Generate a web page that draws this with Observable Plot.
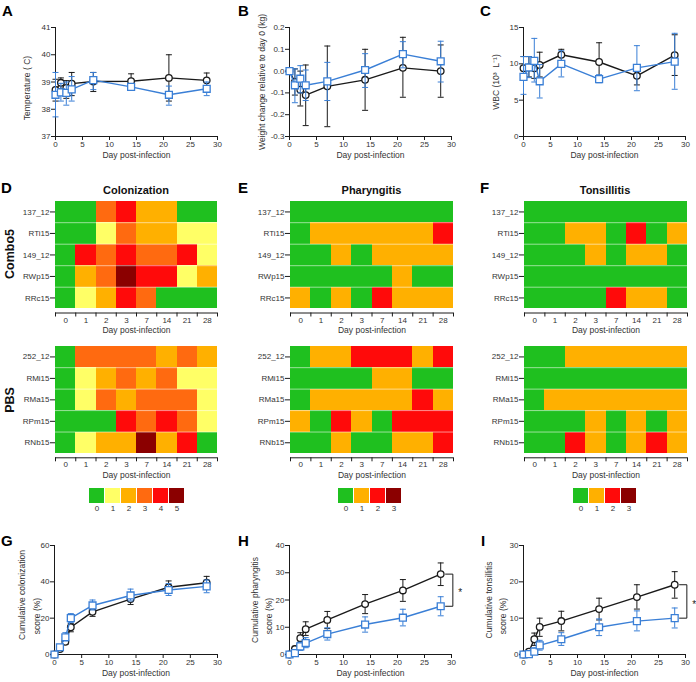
<!DOCTYPE html>
<html><head><meta charset="utf-8">
<script src="https://cdn.jsdelivr.net/npm/d3@7"></script>
<script src="https://cdn.jsdelivr.net/npm/@observablehq/plot@0.6"></script>
<style>
body{margin:0;background:#fff;}
#fig{position:relative;width:696px;height:682px;overflow:hidden;background:#fff;font-family:Arial,"Liberation Sans",Helvetica,sans-serif;}
.pan{position:absolute;}
.pan svg{overflow:visible;display:block;}
</style></head><body><div id="fig"></div>
<script>
// ---------- data ----------
const DAYS = [0,1,2,3,7,14,21,28];
const DAY_LABELS = ["0","1","2","3","7","14","21","28"];
const X_TICKS = [0,5,10,15,20,25,30];

// Temperature (black = PBS, blue = Combo5)
const tempPbs   = [38.71,38.97,38.78,38.94,39.02,39.03,39.15,39.06];
const tempPbsLo = [38.30,38.75,38.40,38.50,38.65,38.75,38.30,38.80];
const tempPbsHi = [39.10,39.15,39.05,39.35,39.35,39.30,40.00,39.33];
const tempCom   = [38.53,38.62,38.60,38.73,39.07,38.82,38.53,38.75];
const tempComLo = [37.72,38.30,38.15,38.30,38.72,38.75,38.15,38.50];
const tempComHi = [39.35,38.95,39.00,39.20,39.35,38.90,38.85,39.00];

// Weight change
const wPbs   = [0,-0.050,-0.085,-0.110,-0.070,-0.040,0.015,0.000];
const wPbsLo = [0,-0.110,-0.160,-0.250,-0.255,-0.180,-0.120,-0.120];
const wPbsHi = [0, 0.010, 0.000, 0.028, 0.115, 0.100, 0.155, 0.120];
const wCom   = [0,-0.065,-0.035,-0.065,-0.047,0.005,0.078,0.045];
const wComLo = [0,-0.145,-0.100,-0.135,-0.135,-0.075,0.015,-0.050];
const wComHi = [0, 0.010, 0.025, 0.005, 0.040, 0.080, 0.135, 0.137];

// WBC
const wbcPbs   = [9.4,9.5,9.4,9.85,11.25,10.25,8.35,11.2];
const wbcPbsLo = [7.9,8.2,8.0,8.2,10.3,7.5,7.1,8.4];
const wbcPbsHi = [11.0,11.0,10.3,11.6,12.0,12.9,9.6,14.0];
const wbcCom   = [8.2,9.5,10.4,7.6,10.0,7.9,9.45,10.3];
const wbcComLo = [5.8,8.1,7.5,5.3,8.2,7.4,6.3,6.5];
const wbcComHi = [11.0,11.0,13.5,9.9,11.8,8.5,12.5,14.2];

// Cumulative colonization
const colPbs   = [0,3,7,15,23.5,30.5,37,39.5];
const colPbsLo = [0,2,5.5,12.5,21,27.5,34,36];
const colPbsHi = [0,4,8.5,17,26,33,40.5,43];
const colCom   = [0,4,9.5,20,27,32.5,35.5,37.5];
const colComLo = [0,2.5,7.5,17.5,24.5,29.5,32.5,34];
const colComHi = [0,5.5,12,22.5,30,36,39,41];

// Cumulative pharyngitis
const phPbs   = [0,2,6,9.3,12.7,18.5,23.5,29.5];
const phPbsLo = [0,1,4,7,9.5,15,19.5,25.3];
const phPbsHi = [0,3,8,12,15.8,22,27.5,33.6];
const phCom   = [0,0.5,3,4.2,7.5,11,13.5,17.7];
const phComLo = [0,0,1.5,2.5,5.3,8.2,10.5,14.2];
const phComHi = [0,1,4.5,6.2,9.8,13.8,16.6,21.2];

// Cumulative tonsillitis
const toPbs   = [0,0.8,4.2,7.6,9.2,12.5,15.8,19.2];
const toPbsLo = [0,0.2,2.5,5,6.5,9.5,12.5,15.5];
const toPbsHi = [0,1.4,5.9,10,11.9,15.5,19.2,22.8];
const toCom   = [0,0.1,0.8,2.5,4.2,7.5,9.2,10];
const toComLo = [0,0,0,1.2,2.5,5.2,6.5,7.3];
const toComHi = [0,0.3,1.8,3.9,6,9.8,12,12.8];

// Heatmaps
const ROWS_COMBO = ["137_12","RTi15","149_12","RWp15","RRc15"];
const ROWS_PBS   = ["252_12","RMi15","RMa15","RPm15","RNb15"];
const COLON_COMBO = [[0,0,3,4,2,2,0,0],[0,0,1,3,2,2,1,1],[0,4,3,4,3,3,4,1],[0,2,3,5,4,4,1,2],[0,1,2,4,3,0,0,0]];
const COLON_PBS   = [[0,3,3,3,3,2,3,2],[0,1,2,3,2,3,1,1],[0,1,3,2,3,3,3,1],[0,0,0,4,3,4,3,1],[0,1,2,2,5,2,4,0]];
const PHAR_COMBO  = [[0,0,0,0,0,0,0,0],[0,1,1,1,1,1,1,2],[0,0,1,0,1,1,1,1],[0,0,0,0,0,1,0,0],[1,0,1,0,2,1,1,1]];
const PHAR_PBS    = [[0,1,1,2,2,2,1,2],[0,0,0,0,1,1,0,0],[0,1,1,1,1,1,2,1],[1,0,2,1,0,2,2,2],[0,0,1,0,0,1,1,2]];
const TONS_COMBO  = [[0,0,0,0,0,0,0,0],[0,0,1,1,0,2,0,1],[0,0,0,1,0,1,1,0],[0,0,0,0,0,0,0,0],[0,0,0,0,2,1,1,0]];
const TONS_PBS    = [[0,0,1,1,1,1,1,1],[0,0,0,0,0,0,0,0],[0,1,1,1,1,1,1,1],[0,0,0,1,0,1,0,1],[0,0,2,1,0,1,2,1]];
const PAL_COLON = ["#1fc01f","#ffff66","#ffb000","#ff6a10","#ff0a0a","#8b0000"];
const PAL_SCORE = ["#1fc01f","#ffb000","#ff0a0a","#8b0000"];

// ---------- style ----------
const FONT = 'Arial, "Liberation Sans", Helvetica, sans-serif';
const INK = "#1a1a1a", TXT = "#333", BLUE = "#3a7fd6";
const STYLE = {fontFamily: FONT, fontSize: "8px", color: INK, background: "transparent", overflow: "visible"};
const capSym = {draw(ctx, size){ const w = Math.sqrt(size/Math.PI); ctx.moveTo(-w,0); ctx.lineTo(w,0); }};
const fig = document.getElementById("fig");
function place(svg, left, top){
  const d = document.createElement("div"); d.className = "pan";
  d.style.left = left + "px"; d.style.top = top + "px";
  d.appendChild(svg); fig.appendChild(d);
}
function series(m, lo, hi){ return DAYS.map((d,i)=>({day:d, mean:m[i], lo:lo[i], hi:hi[i]})); }
function group(data, color, sym, r){
  return [
    Plot.ruleX(data, {x:"day", y1:"lo", y2:"hi", stroke:color, strokeWidth:1}),
    Plot.dot(data, {x:"day", y:"lo", symbol:capSym, r:3, stroke:color, strokeWidth:1, fill:"none"}),
    Plot.dot(data, {x:"day", y:"hi", symbol:capSym, r:3, stroke:color, strokeWidth:1, fill:"none"}),
    Plot.line(data, {x:"day", y:"mean", stroke:color, strokeWidth:1.4}),
    Plot.dot(data, {x:"day", y:"mean", symbol:sym, r:r, fill:"white", stroke:color, strokeWidth:1.3})
  ];
}
function makeLine(c){
  const pbs = series(...c.pbs), com = series(...c.com);
  const marks = [
    Plot.ruleX([0], {stroke:INK}),
    Plot.ruleY([c.yDomain[0]], {stroke:INK}),
    Plot.axisX(X_TICKS, {tickSize:4, tickPadding:1, fontSize:8, label:null, fill:TXT}),
    Plot.axisY(c.yTicks, {tickSize:4, tickPadding:1, fontSize:8, label:null, tickFormat:c.yFmt, fill:TXT}),
    Plot.text(["Day post-infection"], {text:d=>d, frameAnchor:"bottom", dy:21, fontSize:8.5, fill:TXT}),
    ...c.ylab.map(l => Plot.text([l.t], {text:d=>d, frameAnchor:"left", textAnchor:"middle", lineAnchor:"middle", rotate:-90, dx:l.dx, dy:l.dy, fontSize:8.5, fill:TXT})),
    ...group(pbs, INK, "circle", 3.3),
    ...group(com, BLUE, "square", 3.9)
  ];
  if (c.bracket){
    const last = DAYS.length-1, xd = DAYS[last];
    const a = c.pbs[0][last], b = c.com[0][last];
    const br = [{x:xd+0.9,y:a},{x:xd+2.25,y:a},{x:xd+2.25,y:b},{x:xd+0.9,y:b}];
    marks.push(Plot.line(br, {x:"x", y:"y", stroke:INK, strokeWidth:1}));
    marks.push(Plot.text(["*"], {text:d=>d, x:xd+3.6, y:(a+b)/2, dy:3, fontSize:10, fill:INK}));
  }
  const svg = Plot.plot({
    width:c.width, height:c.height, marginLeft:c.mL, marginRight:c.mR, marginTop:c.mT, marginBottom:c.mB,
    x:{domain:[0,30], label:null}, y:{domain:c.yDomain, label:null},
    style:STYLE, marks
  });
  place(svg, c.left, c.top);
}
function makeHeat(c){
  const cells = [];
  c.grid.forEach((r,i)=>r.forEach((v,j)=>cells.push({row:i, col:j, v})));
  const svg = Plot.plot({
    width:c.width, height:c.height, marginLeft:c.mL, marginRight:c.mR, marginTop:c.mT, marginBottom:c.mB,
    x:{domain:[0,8], label:null}, y:{domain:[0,5.2], reverse:true, label:null},
    color:{type:"ordinal", domain:c.palette.map((_,i)=>i), range:c.palette},
    style:STYLE,
    marks:[
      Plot.rect(cells, {x1:"col", x2:d=>d.col+1, y1:"row", y2:d=>d.row+1, fill:"v", shapeRendering:"crispEdges"}),
      Plot.ruleY([1,2,3,4], {stroke:"white", strokeOpacity:0.55, strokeWidth:1}),
      Plot.ruleY([5.2], {stroke:INK}),
      Plot.axisX(d3.range(9), {tickSize:4, tickFormat:()=>"", label:null}),
      Plot.axisX(d3.range(8).map(i=>i+0.5), {tickSize:0, tickPadding:4, fontSize:8, fill:TXT, label:null, tickFormat:v=>DAY_LABELS[Math.floor(v)]}),
      Plot.axisY(d3.range(5).map(i=>i+0.5), {tickSize:5, tickPadding:1, fontSize:8, fill:TXT, label:null, tickFormat:v=>c.rows[Math.floor(v)]}),
      Plot.text(["Day post-infection"], {text:d=>d, frameAnchor:"bottom", dy:20, fontSize:8.5, fill:TXT})
    ]
  });
  place(svg, c.left, c.top);
}
function makeLegend(palette, left, top){
  const lv = palette.map((_,i)=>i);
  const svg = Plot.plot({
    width: Math.round(palette.length*15.83), height:30, marginLeft:0, marginRight:0, marginTop:0, marginBottom:15,
    x:{type:"band", domain:lv, paddingInner:0.07, paddingOuter:0, axis:null, label:null},
    color:{type:"ordinal", domain:lv, range:palette},
    style:STYLE,
    marks:[
      Plot.cell(lv, {x:d=>d, fill:d=>d, shapeRendering:"crispEdges"}),
      Plot.text(lv, {x:d=>d, text:d=>String(d), frameAnchor:"bottom", dy:7, fontSize:8, fill:TXT})
    ]
  });
  place(svg, left, top);
}

// ---------- top row ----------
const TOP = {top:0, height:170, mT:27, mB:34};
makeLine({...TOP, left:0, width:232, mL:55, mR:15, yDomain:[37,41], yTicks:[37,38,39,40,41], yFmt:d=>String(d),
  ylab:[{t:"Temperature ( C)", dx:-28, dy:6}],
  pbs:[tempPbs,tempPbsLo,tempPbsHi], com:[tempCom,tempComLo,tempComHi]});
makeLine({...TOP, left:230, width:236, mL:59, mR:15, yDomain:[-0.3,0.2], yTicks:[-0.3,-0.2,-0.1,0,0.1,0.2], yFmt:d=>d.toFixed(1),
  ylab:[{t:"Weight change relative to day 0 (kg)", dx:-27, dy:0}],
  pbs:[wPbs,wPbsLo,wPbsHi], com:[wCom,wComLo,wComHi]});
makeLine({...TOP, left:460, width:236, mL:63, mR:11, yDomain:[0,15], yTicks:[0,5,10,15], yFmt:d=>String(d),
  ylab:[{t:"WBC (10³  L⁻¹)", dx:-27, dy:0}],
  pbs:[wbcPbs,wbcPbsLo,wbcPbsHi], com:[wbcCom,wbcComLo,wbcComHi]});

// ---------- heatmaps ----------
const HT = {top:180, height:158, mT:20.7, mB:25.5};
const HB = {top:335, height:148, mT:10.7, mB:25.7};
makeHeat({...HT, left:0,   width:232, mL:55, mR:15, rows:ROWS_COMBO, grid:COLON_COMBO, palette:PAL_COLON});
makeHeat({...HT, left:230, width:236, mL:60, mR:13, rows:ROWS_COMBO, grid:PHAR_COMBO, palette:PAL_SCORE});
makeHeat({...HT, left:460, width:236, mL:64, mR:9,  rows:ROWS_COMBO, grid:TONS_COMBO, palette:PAL_SCORE});
makeHeat({...HB, left:0,   width:232, mL:55, mR:15, rows:ROWS_PBS, grid:COLON_PBS, palette:PAL_COLON});
makeHeat({...HB, left:230, width:236, mL:60, mR:13, rows:ROWS_PBS, grid:PHAR_PBS, palette:PAL_SCORE});
makeHeat({...HB, left:460, width:236, mL:64, mR:9,  rows:ROWS_PBS, grid:TONS_PBS, palette:PAL_SCORE});
makeLegend(PAL_COLON, 89, 488);
makeLegend(PAL_SCORE, 338, 488);
makeLegend(PAL_SCORE, 573, 488);

// ---------- bottom row ----------
const BOT = {top:510, height:172, mT:35, mB:28};
makeLine({...BOT, left:0, width:232, mL:54, mR:15, yDomain:[0,60], yTicks:[0,20,40,60], yFmt:d=>String(d),
  ylab:[{t:"Cumulative colonization", dx:-32, dy:-5}, {t:"score (%)", dx:-17, dy:16}],
  pbs:[colPbs,colPbsLo,colPbsHi], com:[colCom,colComLo,colComHi]});
makeLine({...BOT, left:230, width:236, mL:59, mR:15, yDomain:[0,40], yTicks:[0,10,20,30,40], yFmt:d=>String(d),
  ylab:[{t:"Cumulative pharyngitis", dx:-34, dy:0}, {t:"score (%)", dx:-20.5, dy:16}],
  pbs:[phPbs,phPbsLo,phPbsHi], com:[phCom,phComLo,phComHi], bracket:true});
makeLine({...BOT, left:460, width:236, mL:63, mR:11, yDomain:[0,30], yTicks:[0,10,20,30], yFmt:d=>String(d),
  ylab:[{t:"Cumulative tonsillitis", dx:-34, dy:0}, {t:"score (%)", dx:-20.5, dy:16}],
  pbs:[toPbs,toPbsLo,toPbsHi], com:[toCom,toComLo,toComHi], bracket:true});

// ---------- annotations ----------
const ov = d3.select(fig).append("svg").attr("width",696).attr("height",682)
  .style("position","absolute").style("left","0px").style("top","0px").style("pointer-events","none")
  .attr("font-family", FONT);
const letters = [["A",2,15.5],["B",238,15.5],["C",480,15.5],["D",1,193],["E",238,193],["F",480,193],["G",1,546],["H",238,546],["I",481,546]];
ov.selectAll("text.l").data(letters).join("text").attr("class","l")
  .attr("x",d=>d[1]).attr("y",d=>d[2]).attr("font-size",15).attr("font-weight","bold").attr("fill","#000").text(d=>d[0]);
const titles = [["Colonization",136,190],["Pharyngitis",371.5,190],["Tonsillitis",605,190]];
ov.selectAll("text.t").data(titles).join("text").attr("class","t")
  .attr("x",d=>d[1]).attr("y",d=>d[2]).attr("dy","0.35em").attr("text-anchor","middle")
  .attr("font-size",11).attr("font-weight","bold").attr("fill","#111").text(d=>d[0]);
const groups = [["Combo5",254],["PBS",400]];
ov.selectAll("text.g").data(groups).join("text").attr("class","g")
  .attr("transform",d=>`translate(10,${d[1]}) rotate(-90)`).attr("dy","0.35em").attr("text-anchor","middle")
  .attr("font-size",12.5).attr("font-weight","bold").attr("fill","#111").text(d=>d[0]);
</script></body></html>
